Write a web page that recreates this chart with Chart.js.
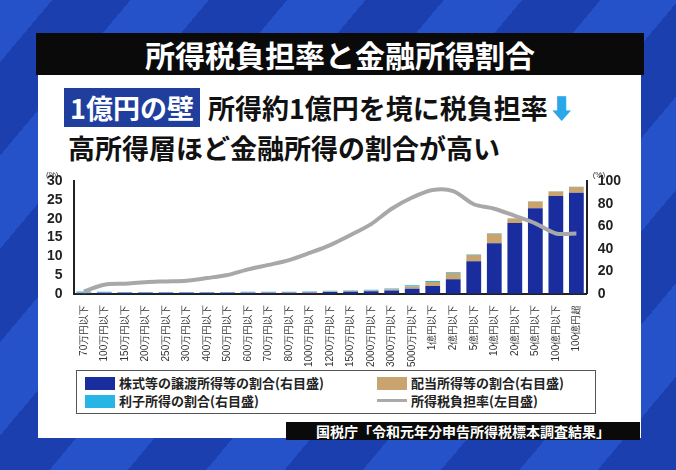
<!DOCTYPE html><html><head><meta charset="utf-8">
<script src="https://cdn.jsdelivr.net/npm/chart.js@4"></script>
<style>
body{margin:0;width:676px;height:470px;overflow:hidden;font-family:"Noto Sans CJK JP",sans-serif;
background:repeating-linear-gradient(-50deg,#1b3fae 0 60px,#2552c8 60px 120px);}
#panel{position:absolute;left:38px;top:34px;width:603px;height:404px;background:#fff;}
#title{position:absolute;left:36px;top:33px;width:608px;height:42px;background:#0a0a0a;color:#fff;font-size:30px;font-weight:bold;text-align:center;line-height:42px;}
#sub1{position:absolute;left:64px;top:88px;font-size:27px;font-weight:bold;color:#111;white-space:nowrap;}
#sub1 .tag{background:#1f3e9e;color:#fff;padding:0 6px;margin-right:8px;}
#sub2{position:absolute;left:68px;top:128px;font-size:27px;font-weight:bold;color:#111;white-space:nowrap;}
#cw{position:absolute;left:44px;top:170px;width:580px;height:200px;}
#leg{position:absolute;left:76px;top:370px;width:518px;height:42px;border:1.5px solid #555;font-size:13px;font-weight:bold;color:#222;}
.li{position:absolute;white-space:nowrap;line-height:18px}
.sw{display:inline-block;width:30px;height:13px;vertical-align:-2px;margin-right:4px}
#src{position:absolute;left:286px;top:422px;width:354px;height:18px;background:#0a0a0a;color:#fff;font-size:14px;line-height:18px;text-align:center;font-weight:bold}
</style></head><body>
<div id="panel"></div><div id="title">所得税負担率と金融所得割合</div>
<div id="sub1"><span class="tag">1億円の壁</span>所得約1億円を境に税負担率<span style="color:#2aa7e8">⬇</span></div>
<div id="sub2">高所得層ほど金融所得の割合が高い</div>
<div id="cw"><canvas id="c" width="580" height="200"></canvas></div>
<div id="leg">
<div class="li" style="left:8px;top:3px"><span class="sw" style="background:#1a2d9e"></span>株式等の譲渡所得等の割合(右目盛)</div>
<div class="li" style="left:300px;top:3px"><span class="sw" style="background:#c9a46e"></span>配当所得等の割合(右目盛)</div>
<div class="li" style="left:8px;top:21px"><span class="sw" style="background:#27b5e6"></span>利子所得の割合(右目盛)</div>
<div class="li" style="left:300px;top:21px"><span class="sw" style="background:#aaa;height:3px;vertical-align:4px"></span>所得税負担率(左目盛)</div>
</div>
<div id="src">国税庁「令和元年分申告所得税標本調査結果」</div>
<script>
const categories=["70万円以下","100万円以下","150万円以下","200万円以下","250万円以下","300万円以下","400万円以下","500万円以下","600万円以下","700万円以下","800万円以下","1000万円以下","1200万円以下","1500万円以下","2000万円以下","3000万円以下","5000万円以下","1億円以下","2億円以下","5億円以下","10億円以下","20億円以下","50億円以下","100億円以下","100億円超"];
const stockShare=[0.5,0.8,0.8,0.8,0.8,0.8,0.8,0.8,1,1,1,1,1.5,1.8,2.2,3,4.5,7,13,29,45,63,76,87,90];
const dividendShare=[0.3,0.3,0.3,0.3,0.3,0.3,0.3,0.3,0.4,0.4,0.4,0.5,0.6,0.7,0.8,1,2,3.5,5.5,5.5,8.5,4,6,4,5];
const interestShare=[1.2,0.6,0.5,0.5,0.4,0.4,0.4,0.4,0.4,0.4,0.4,0.4,0.5,0.5,0.5,0.6,1,0.8,0.6,0.4,0.3,0.3,0.3,0.3,0.3];
const taxRate=[0.6,2.4,2.7,3.1,3.3,3.5,4.2,5,6.5,7.7,9,10.9,13,15.7,18.6,22.7,25.7,27.7,27.4,23.9,22.7,20.8,18.8,16.1,16.1];
const leftTicks=[0,5,10,15,20,25,30], rightTicks=[0,20,40,60,80,100];
new Chart(document.getElementById('c'),{data:{labels:categories,datasets:[
{type:'line',data:taxRate,yAxisID:'y',borderColor:'#a8a8a8',borderWidth:4,pointRadius:0,tension:0.3,order:0},
{type:'bar',data:stockShare,yAxisID:'y1',backgroundColor:'#1a2d9e',stack:'s',barPercentage:0.72,categoryPercentage:1,order:1},
{type:'bar',data:dividendShare,yAxisID:'y1',backgroundColor:'#c9a46e',stack:'s',barPercentage:0.72,categoryPercentage:1,order:1},
{type:'bar',data:interestShare,yAxisID:'y1',backgroundColor:'#27b5e6',stack:'s',barPercentage:0.72,categoryPercentage:1,order:1}]},
options:{responsive:false,animation:false,layout:{padding:{top:10}},plugins:{legend:{display:false},tooltip:{enabled:false}},
scales:{x:{stacked:true,grid:{display:false},border:{color:'#222',width:2},ticks:{maxRotation:90,minRotation:90,font:{size:10},color:'#333',autoSkip:false}},
y:{position:'left',min:0,max:30,afterBuildTicks:a=>{a.ticks=leftTicks.map(v=>({value:v}))},grid:{display:false},border:{color:'#222',width:2},ticks:{autoSkip:false,font:{size:14,weight:'bold'},color:'#222'}},
y1:{position:'right',stacked:true,min:0,max:100,afterBuildTicks:a=>{a.ticks=rightTicks.map(v=>({value:v}))},grid:{display:false},border:{color:'#222',width:2},ticks:{autoSkip:false,font:{size:14,weight:'bold'},color:'#222'}}}},
plugins:[{afterDraw(ch){const g=ch.ctx;g.save();g.font='8px sans-serif';g.fillStyle='#333';g.fillText('(%)',ch.scales.y.left+2,ch.chartArea.top-4);g.fillText('(%)',ch.scales.y1.left+6,ch.chartArea.top-4);g.restore();}}]});
</script></body></html>
